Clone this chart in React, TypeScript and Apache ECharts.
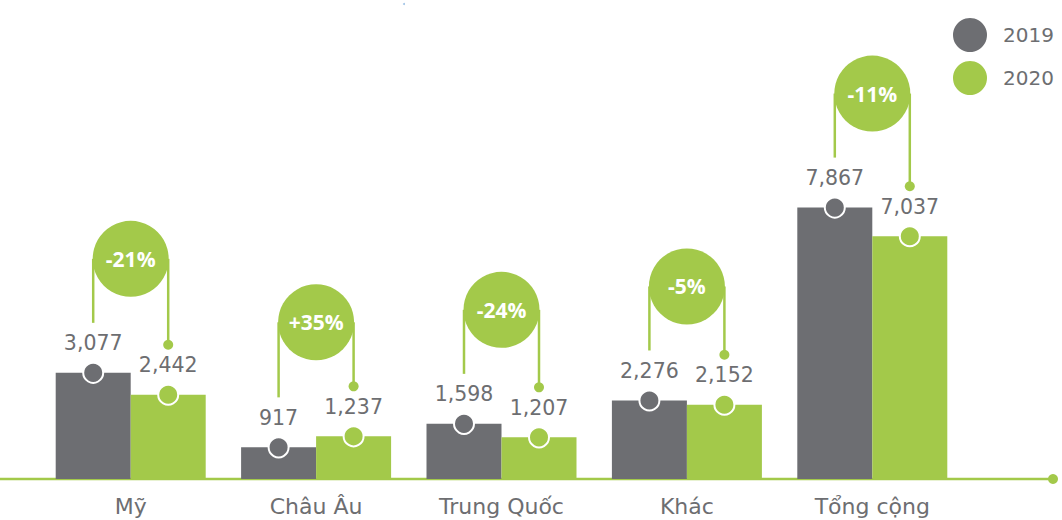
import React, { useEffect, useRef } from "react";
import * as echarts from "echarts";

const categories = ["Mỹ", "Châu Âu", "Trung Quốc", "Khác", "Tổng cộng"];
const values2019 = [3077, 917, 1598, 2276, 7867];
const values2020 = [2442, 1237, 1207, 2152, 7037];
const changeLabels = ["-21%", "+35%", "-24%", "-5%", "-11%"];
const seriesNames = ["2019", "2020"];

const GREY = "#6d6e72";
const GREEN = "#a3c94a";
const TEXT = "#6d6e71";
const FONT = "'DejaVu Sans', sans-serif";
const BOLD_FONT = "'Open Sans', sans-serif";
const BAR_W = 75;

const fmt = (v: number) => v.toLocaleString("en-US");

export default function App() {
  const ref = useRef<HTMLDivElement>(null);
  useEffect(() => {
    if (!ref.current) return;
    const chart = echarts.init(ref.current, null, { renderer: "svg" });
    const valueLabel = {
      show: true,
      position: "top",
      distance: 19,
      formatter: (p: any) => fmt(p.value),
      fontSize: 20.5,
      color: TEXT,
      fontFamily: FONT,
    };
    const option: any = {
      animation: false,
      grid: { left: 38, right: 97, top: 134, bottom: 41 },
      legend: {
        data: seriesNames,
        orient: "vertical",
        left: 948,
        top: 13,
        icon: "circle",
        itemWidth: 34,
        itemHeight: 34,
        itemGap: 9,
        textStyle: { fontSize: 20, color: TEXT, fontFamily: FONT, padding: [0, 0, 0, 11] },
        selectedMode: false,
      },
      xAxis: {
        type: "category",
        data: categories,
        axisLine: { show: false },
        axisTick: { show: false },
        axisLabel: { fontSize: 22, color: TEXT, fontFamily: FONT, margin: 16 },
      },
      yAxis: { type: "value", min: 0, max: 10000, show: false, splitLine: { show: false } },
      series: [
        {
          name: seriesNames[0],
          type: "bar",
          data: values2019,
          barWidth: BAR_W,
          barGap: "0%",
          itemStyle: { color: GREY },
          label: valueLabel,
        },
        {
          name: seriesNames[1],
          type: "bar",
          data: values2020,
          barWidth: BAR_W,
          barGap: "0%",
          itemStyle: { color: GREEN },
          label: valueLabel,
        },
        {
          name: seriesNames[0],
          type: "scatter",
          data: values2019,
          symbol: "circle",
          symbolSize: 20,
          symbolOffset: [-BAR_W / 2, 0],
          itemStyle: { color: GREY, borderColor: "#fff", borderWidth: 2, opacity: 1 },
          z: 5,
        },
        {
          name: seriesNames[1],
          type: "scatter",
          data: values2020,
          symbol: "circle",
          symbolSize: 20,
          symbolOffset: [BAR_W / 2, 0],
          itemStyle: { color: GREEN, borderColor: "#fff", borderWidth: 2, opacity: 1 },
          z: 5,
        },
        {
          type: "custom",
          coordinateSystem: "cartesian2d",
          clip: false,
          z: 6,
          data: categories.map((_, i) => [i, Math.max(values2019[i], values2020[i])]),
          renderItem: (params: any, api: any) => {
            const i = api.value(0);
            const base = api.coord([i, 0]);
            const cx = base[0];
            const y19 = api.coord([i, values2019[i]])[1];
            const y20 = api.coord([i, values2020[i]])[1];
            const cy = Math.min(y19, y20) - 114;
            const xl = cx - BAR_W / 2;
            const xr = cx + BAR_W / 2;
            const lineStyle = { stroke: GREEN, lineWidth: 2.5 };
            return {
              type: "group",
              children: [
                { type: "line", shape: { x1: xl, y1: cy, x2: xl, y2: y19 - 50 }, style: lineStyle },
                { type: "line", shape: { x1: xr, y1: cy, x2: xr, y2: y20 - 50 }, style: lineStyle },
                { type: "circle", shape: { cx: xr, cy: y20 - 50, r: 5 }, style: { fill: GREEN } },
                { type: "circle", shape: { cx, cy, r: 38 }, style: { fill: GREEN }, z2: 10 },
                {
                  type: "text",
                  x: cx,
                  y: cy,
                  z2: 11,
                  style: {
                    text: changeLabels[i],
                    fill: "#fff",
                    fontSize: 21,
                    fontWeight: "bold",
                    fontFamily: BOLD_FONT,
                    align: "center",
                    verticalAlign: "middle",
                  },
                },
              ],
            };
          },
        },
      ],
    };
    chart.setOption(option);
    const y0 = chart.convertToPixel({ gridIndex: 0 } as any, [0, 0])[1];
    chart.setOption({
      graphic: [
        { type: "line", shape: { x1: 0, y1: y0, x2: 1053, y2: y0 }, style: { stroke: GREEN, lineWidth: 2.5 }, z: 1 },
        { type: "circle", shape: { cx: 1053, cy: y0, r: 5 }, style: { fill: GREEN }, z: 1 },
        { type: "circle", shape: { cx: 404, cy: 4, r: 1 }, style: { fill: "#9fc3e6" }, z: 1 },
      ],
    });
    return () => chart.dispose();
  }, []);
  return (
    <div
      ref={ref}
      style={{ position: "fixed", left: 0, top: 0, width: 1062, height: 520, background: "#fff" }}
    />
  );
}
